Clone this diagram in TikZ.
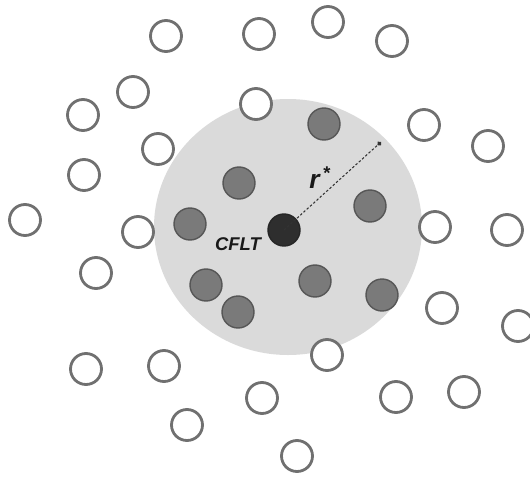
\documentclass[tikz,border=0pt]{standalone}
\usepackage{fontspec}
\setsansfont{Liberation Sans}
\usepackage{tikz}
\usetikzlibrary{arrows.meta}
\definecolor{zonegray}{RGB}{218,218,218}
\definecolor{ringgray}{RGB}{112,112,112}
\definecolor{sitegray}{RGB}{122,122,122}
\definecolor{siteedge}{RGB}{86,86,86}
\definecolor{hubdark}{RGB}{46,46,46}
\tikzset{
  % Open (uncovered) points
  freept/.style={circle, draw=ringgray, line width=1.6pt, fill=white,
                 minimum size=6.2mm, inner sep=0pt},
  % Points inside the coverage radius
  inpt/.style={circle, draw=siteedge, line width=0.8pt, fill=sitegray,
               minimum size=6.4mm, inner sep=0pt},
  % Central facility
  hubpt/.style={circle, draw=black!85, line width=0.8pt, fill=hubdark,
                minimum size=6.4mm, inner sep=0pt},
  % Radius line
  rarr/.style={dash pattern=on 1.4pt off 1.1pt, line width=0.6pt,
               draw=black!80, -{Circle[length=2.6pt]}},
}

\begin{document}
\begin{tikzpicture}[x=0.2mm,y=-0.2mm]
  \useasboundingbox (0,0) rectangle (530,478);
  \clip (0,0) rectangle (530,478);

  %% ── Coverage zone ─────────────────────────────────────
  \fill[zonegray] (288,227) ellipse [x radius=26.8mm, y radius=25.6mm];

  %% ── Covered points ────────────────────────────────────
  \foreach \x/\y [count=\i] in {324/124, 239/183, 190/224, 370/206,
                                206/285, 238/312, 315/281, 382/295}
    \node[inpt] (s\i) at (\x,\y) {};

  %% ── Uncovered points ──────────────────────────────────
  \foreach \x/\y [count=\i] in {166/36, 259/34, 328/22, 392/41, 133/92,
                                83/115, 256/104, 158/149, 84/175, 25/220,
                                138/232, 424/125, 488/146, 435/227, 507/230,
                                96/273, 86/369, 164/366, 187/425, 262/398,
                                442/308, 518/326, 327/355, 396/397, 464/392,
                                297/456}
    \node[freept] (o\i) at (\x,\y) {};

  %% ── CFLT and radius ───────────────────────────────────
  \node[hubpt] (cflt) at (284,230) {};
  \node[font=\sffamily\bfseries\itshape\fontsize{10.5}{12}\selectfont,
        text=black!90] (cfltlbl) at (238,244) {CFLT};
  \coordinate (rim) at (381,142);
  \draw[rarr] (cflt.center) -- (rim);
  \node[font=\sffamily\bfseries\itshape\fontsize{15}{17}\selectfont,
        text=black!90] (rlbl) at (320,178) {r\textsuperscript{\,*}};

\end{tikzpicture}
\end{document}
